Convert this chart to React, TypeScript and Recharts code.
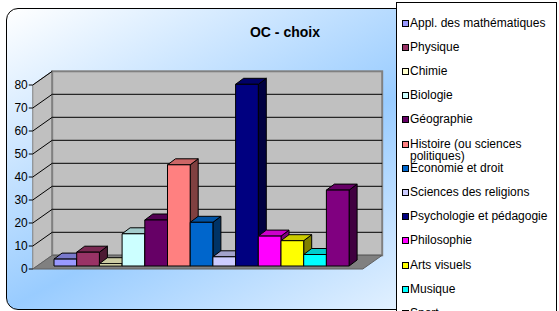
import React from "react";
import { BarChart, Bar, XAxis, YAxis, CartesianGrid, Legend } from "recharts";

const SUBJECTS = [
  "Appl. des mathématiques",
  "Physique",
  "Chimie",
  "Biologie",
  "Géographie",
  "Histoire (ou sciences politiques)",
  "Économie et droit",
  "Sciences des religions",
  "Psychologie et pédagogie",
  "Philosophie",
  "Arts visuels",
  "Musique",
  "Sport",
];
const VALUES = [3, 6, 1, 14, 20, 44, 19, 4, 79, 13, 11, 5, 33];
const COLORS = [
  "#9999FF",
  "#993366",
  "#FFFFCC",
  "#CCFFFF",
  "#660066",
  "#FF8080",
  "#0066CC",
  "#CCCCFF",
  "#000080",
  "#FF00FF",
  "#FFFF00",
  "#00FFFF",
  "#800080",
];
const Y_TICKS = [0, 10, 20, 30, 40, 50, 60, 70, 80];
const TITLE = "OC - choix";

const W = 559;
const H = 311;
const MARGIN = { top: 82, right: 192, bottom: 45, left: 36 };
const AXIS_W = 1;
const PLOT_LEFT = MARGIN.left + AXIS_W;
// offsets of the front edge / back wall relative to the plane the bars stand in
const FRONT = { dx: -4.25, dy: 3 };
const BACK = { dx: 15.2, dy: -10.7 };
const BAR_DEPTH = { dx: 8, dy: -6 };
const FONT = '"Liberation Sans", Arial, sans-serif';

const data = [
  SUBJECTS.reduce((row: any, _s, i) => {
    row["s" + i] = VALUES[i];
    return row;
  }, { name: "OC" }),
];

function shade(hex: string, k: number) {
  const n = parseInt(hex.slice(1), 16);
  const r = Math.round(((n >> 16) & 255) * k);
  const g = Math.round(((n >> 8) & 255) * k);
  const b = Math.round((n & 255) * k);
  return `rgb(${r},${g},${b})`;
}

function Bar3D(props: any) {
  const { x, y, width, height, fill } = props;
  if (width == null || height == null) return null;
  const { dx, dy } = BAR_DEPTH;
  return (
    <g stroke="#000" strokeWidth={1} strokeLinejoin="round">
      <polygon
        points={`${x + width},${y} ${x + width + dx},${y + dy} ${x + width + dx},${y + height + dy} ${x + width},${y + height}`}
        fill={shade(fill, 0.5)}
      />
      <polygon
        points={`${x},${y} ${x + dx},${y + dy} ${x + width + dx},${y + dy} ${x + width},${y}`}
        fill={shade(fill, 0.8)}
      />
      <rect x={x} y={y} width={width} height={height} fill={fill} />
    </g>
  );
}

// side wall, back wall and floor, drawn under the first grid line
function Walls({ x, y, width, height }: any) {
  const bottom = y + height;
  const fx = x + FRONT.dx;
  const bx = x + BACK.dx;
  return (
    <g>
      <polygon
        points={`${fx},${y + FRONT.dy} ${bx},${y + BACK.dy} ${bx},${bottom + BACK.dy} ${fx},${bottom + FRONT.dy}`}
        fill="#C0C0C0"
        stroke="#808080"
      />
      <rect
        x={bx}
        y={y + BACK.dy}
        width={width}
        height={height}
        fill="#C0C0C0"
        stroke="#808080"
        strokeWidth={2}
      />
      <polygon
        points={`${fx},${bottom + FRONT.dy} ${fx + width},${bottom + FRONT.dy} ${bx + width},${bottom + BACK.dy} ${bx},${bottom + BACK.dy}`}
        fill="#808080"
        stroke="#606060"
      />
    </g>
  );
}

function BackGridLine(p: any) {
  const px = p.x ?? PLOT_LEFT;
  const py = p.y ?? MARGIN.top;
  const pw = p.width ?? W - PLOT_LEFT - MARGIN.right;
  const ph = p.height ?? H - MARGIN.top - MARGIN.bottom;
  const first = p.index === 0 || p.key === "line-0";
  const isEdge = Math.abs(p.y1 - py) < 0.5 || Math.abs(p.y1 - (py + ph)) < 0.5;
  return (
    <g key={p.key}>
      {first && <Walls x={px} y={py} width={pw} height={ph} />}
      {!isEdge && (
        <line
          x1={p.x1 + BACK.dx}
          y1={p.y1 + BACK.dy}
          x2={p.x2 + BACK.dx}
          y2={p.y2 + BACK.dy}
          stroke="#000"
          strokeWidth={1}
        />
      )}
    </g>
  );
}

function YTick(props: any) {
  const { y, payload } = props;
  const fx = PLOT_LEFT + FRONT.dx;
  const fy = y + FRONT.dy;
  return (
    <g>
      <line x1={fx - 4} y1={fy} x2={fx} y2={fy} stroke="#000" />
      {payload.value > 0 && (
        <line x1={fx} y1={fy} x2={PLOT_LEFT + BACK.dx} y2={y + BACK.dy} stroke="#000" />
      )}
      <text
        x={fx - 5}
        y={fy}
        dy="0.35em"
        textAnchor="end"
        fontSize={12}
        fontFamily={FONT}
        fill="#000"
      >
        {payload.value}
      </text>
    </g>
  );
}

function LegendBox() {
  return (
    <div
      style={{
        position: "relative",
        width: "100%",
        height: "100%",
        background: "#fff",
        border: "1px solid #000",
        boxSizing: "border-box",
        fontFamily: FONT,
        fontSize: 12,
        color: "#000",
      }}
    >
      {SUBJECTS.map((s, i) => (
        <div key={s} style={{ position: "absolute", left: 5, top: 13.5 + 24.2 * i }}>
          <span
            style={{
              position: "absolute",
              left: 0,
              top: 3,
              width: 5,
              height: 5,
              background: COLORS[i],
              border: "1px solid #000",
            }}
          />
          <span
            style={{
              position: "absolute",
              left: 8,
              top: 0,
              width: 143,
              lineHeight: "12px",
              whiteSpace: "normal",
            }}
          >
            {s}
          </span>
        </div>
      ))}
    </div>
  );
}

export default function App() {
  return (
    <div
      style={{
        position: "absolute",
        left: 0,
        top: 0,
        width: W,
        height: H,
        background: "#fff",
        overflow: "hidden",
      }}
    >
      <div
        style={{
          position: "absolute",
          left: 6,
          top: 8,
          width: 551,
          height: 302,
          boxSizing: "border-box",
          border: "1.5px solid #000",
          borderRadius: 12,
          background:
            "linear-gradient(to bottom right, #FFFFFF 0%, #99CCFF 50%, #FFFFFF 100%)",
        }}
      />
      <div
        style={{
          position: "absolute",
          left: 0,
          top: 0,
          width: 570,
          textAlign: "center",
          fontFamily: FONT,
          fontWeight: "bold",
          fontSize: 14,
          lineHeight: "16px",
          paddingTop: 24,
        }}
      >
        {TITLE}
      </div>
      <div style={{ position: "absolute", left: 0, top: 0 }}>
        <BarChart
          width={W}
          height={H}
          data={data}
          margin={MARGIN}
          barGap={0}
          barSize={22.7}
        >
          <CartesianGrid vertical={false} horizontal={BackGridLine} />
          <XAxis dataKey="name" hide />
          <YAxis
            width={AXIS_W}
            domain={[0, 80]}
            ticks={Y_TICKS}
            axisLine={false}
            tickLine={false}
            tick={<YTick />}
            interval={0}
          />
          <Legend
            layout="vertical"
            align="center"
            verticalAlign="middle"
            content={<LegendBox />}
            wrapperStyle={{ left: 396, top: 2, width: 161, height: 320 }}
          />
          {SUBJECTS.map((s, i) => (
            <Bar
              key={s}
              dataKey={"s" + i}
              name={s}
              fill={COLORS[i]}
              shape={<Bar3D />}
              isAnimationActive={false}
            />
          ))}
        </BarChart>
      </div>
    </div>
  );
}
